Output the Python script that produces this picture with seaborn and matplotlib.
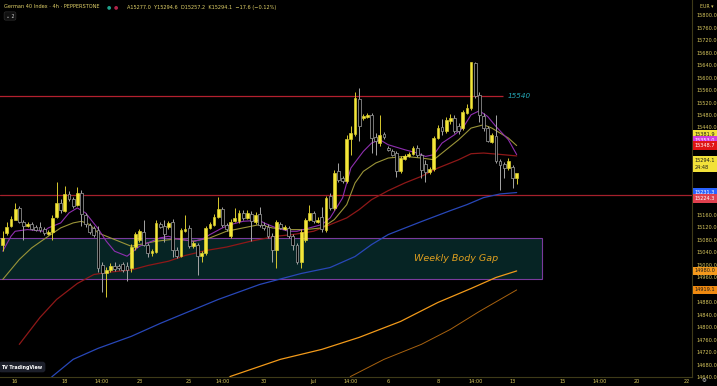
import numpy as np
import pandas as pd
import seaborn as sns
import matplotlib.pyplot as plt
from matplotlib.patches import Rectangle

# ---- candles (4h bars, oldest first) ----
opens = [15064.6, 15103.0, 15125.4, 15144.6, 15183.0, 15138.2, 15125.4, 15131.8, 15122.2, 15122.2,
         15115.8, 15099.8, 15106.2, 15154.2, 15199.0, 15173.4, 15227.8, 15211.8, 15192.6, 15231.0,
         15160.6, 15128.6, 15119.0, 15112.6, 15000.6, 14975.0, 14984.6, 14997.4, 14997.4, 15003.8,
         14997.4, 14991.0, 15058.2, 15080.6, 15106.2, 15064.6, 15039.0, 15042.2, 15131.8, 15125.4,
         15122.2, 15138.2, 15048.6, 15029.4, 15109.4, 15119.0, 15061.4, 15064.6, 15029.4, 15039.0,
         15119.0, 15128.6, 15154.2, 15179.8, 15128.6, 15093.4, 15141.4, 15141.4, 15167.0, 15151.0,
         15163.8, 15138.2, 15163.8, 15128.6, 15122.2, 15093.4, 15048.6, 15131.8, 15115.8, 15119.0,
         15093.4, 15064.6, 15010.2, 15080.6, 15144.6, 15167.0, 15138.2, 15154.2, 15112.6, 15221.4,
         15183.0, 15301.4, 15279.0, 15269.4, 15403.8, 15419.8, 15531.8, 15471.0, 15474.2, 15480.6,
         15410.2, 15391.0, 15419.8, 15375.0, 15365.4, 15359.0, 15301.4, 15339.8, 15349.4, 15355.8,
         15375.0, 15352.6, 15323.8, 15298.2, 15307.8, 15407.0, 15442.2, 15429.4, 15461.4, 15471.0,
         15445.4, 15439.0, 15487.0, 15503.0, 15647.0, 15544.6, 15477.4, 15439.0, 15394.2, 15413.4,
         15333.4, 15323.8, 15311.0, 15314.2, 15277.0]
highs = [15107.0, 15138.2, 15157.4, 15199.0, 15189.4, 15144.6, 15138.2, 15138.2, 15128.6, 15138.2,
         15122.2, 15112.6, 15160.6, 15266.2, 15211.8, 15253.4, 15237.4, 15218.2, 15250.2, 15240.6,
         15167.0, 15135.0, 15125.4, 15125.4, 15010.2, 14994.2, 15007.0, 15010.2, 15003.8, 15010.2,
         15010.2, 15067.8, 15106.2, 15115.8, 15144.6, 15071.0, 15051.8, 15144.6, 15138.2, 15144.6,
         15141.4, 15147.8, 15058.2, 15119.0, 15160.6, 15128.6, 15077.4, 15071.0, 15045.4, 15125.4,
         15138.2, 15163.8, 15218.2, 15186.2, 15135.0, 15147.8, 15183.0, 15176.6, 15176.6, 15176.6,
         15173.4, 15170.2, 15186.2, 15138.2, 15131.8, 15103.0, 15144.6, 15138.2, 15128.6, 15125.4,
         15099.8, 15071.0, 15115.8, 15151.0, 15192.6, 15173.4, 15154.2, 15186.2, 15221.4, 15231.0,
         15304.6, 15327.0, 15285.0, 15416.6, 15445.4, 15554.0, 15567.0, 15483.8, 15487.0, 15487.0,
         15423.0, 15480.6, 15426.2, 15381.4, 15371.8, 15365.4, 15349.4, 15355.8, 15362.2, 15381.4,
         15384.6, 15359.0, 15336.6, 15314.2, 15413.4, 15448.6, 15467.8, 15474.2, 15483.8, 15480.6,
         15455.0, 15496.6, 15515.8, 15650.2, 15650.2, 15554.0, 15487.0, 15445.4, 15423.0, 15480.6,
         15339.8, 15330.2, 15343.0, 15320.6, 15294.6]
lows = [15043.0, 15096.6, 15122.2, 15144.6, 15135.0, 15080.6, 15122.2, 15112.6, 15109.4, 15106.2,
        15096.6, 15096.6, 15080.6, 15151.0, 15167.0, 15170.2, 15205.4, 15183.0, 15189.4, 15125.4,
        15122.2, 15099.8, 15090.2, 14978.2, 14911.0, 14895.0, 14978.2, 14981.4, 14984.6, 14978.2,
        14946.2, 14978.2, 15048.6, 15074.2, 15061.4, 15026.2, 15029.4, 15039.0, 15119.0, 15074.2,
        15115.8, 15026.2, 15023.0, 15026.2, 15106.2, 15055.0, 15055.0, 14965.4, 15010.2, 15032.6,
        15115.8, 15125.4, 15151.0, 15122.2, 15109.4, 15087.0, 15138.2, 15135.0, 15144.6, 15147.8,
        15077.4, 15131.8, 15122.2, 15112.6, 15087.0, 15010.2, 14991.0, 15115.8, 15112.6, 15087.0,
        15048.6, 15003.8, 14991.0, 15074.2, 15141.4, 15135.0, 15135.0, 15106.2, 15106.2, 15176.6,
        15176.6, 15266.2, 15263.0, 15263.0, 15352.6, 15413.4, 15397.4, 15464.6, 15471.0, 15359.0,
        15352.6, 15381.4, 15403.8, 15365.4, 15349.4, 15282.2, 15295.0, 15336.6, 15346.2, 15352.6,
        15346.2, 15279.0, 15266.2, 15291.8, 15301.4, 15403.8, 15416.6, 15423.0, 15451.8, 15423.0,
        15419.8, 15432.6, 15483.8, 15496.6, 15535.0, 15458.2, 15429.4, 15394.2, 15391.0, 15327.0,
        15240.6, 15279.0, 15304.6, 15247.0, 15257.2]
closes = [15087.0, 15122.2, 15147.8, 15179.8, 15138.2, 15125.4, 15131.8, 15115.8, 15112.6, 15112.6,
          15103.0, 15106.2, 15151.0, 15199.0, 15176.6, 15227.8, 15211.8, 15189.4, 15231.0, 15163.8,
          15131.8, 15106.2, 15096.6, 14991.0, 14975.0, 14984.6, 14997.4, 14987.8, 14991.0, 14984.6,
          14984.6, 15058.2, 15099.8, 15109.4, 15064.6, 15039.0, 15045.4, 15135.0, 15122.2, 15099.8,
          15135.0, 15048.6, 15029.4, 15112.6, 15115.8, 15061.4, 15071.0, 15029.4, 15039.0, 15119.0,
          15131.8, 15154.2, 15179.8, 15128.6, 15115.8, 15138.2, 15151.0, 15167.0, 15151.0, 15167.0,
          15141.4, 15160.6, 15128.6, 15119.0, 15093.4, 15048.6, 15138.2, 15119.0, 15122.2, 15093.4,
          15064.6, 15010.2, 15106.2, 15144.6, 15167.0, 15141.4, 15144.6, 15115.8, 15215.0, 15183.0,
          15295.0, 15272.6, 15269.4, 15403.8, 15423.0, 15535.0, 15445.4, 15477.4, 15480.6, 15407.0,
          15397.4, 15416.6, 15410.2, 15368.6, 15352.6, 15301.4, 15343.0, 15349.4, 15355.8, 15375.0,
          15352.6, 15304.6, 15298.2, 15307.8, 15407.0, 15439.0, 15429.4, 15464.6, 15471.0, 15429.4,
          15429.4, 15490.2, 15503.0, 15648.6, 15541.4, 15480.6, 15439.0, 15397.4, 15416.6, 15333.4,
          15320.6, 15311.0, 15333.4, 15279.0, 15294.1]

# ---- moving averages (bar index, price) ----
ma_purple_bar = [0, 2, 3, 6, 10, 11, 14, 16, 18, 20, 23, 25, 27, 30, 33, 35, 38, 40, 42, 46, 48, 50, 53, 55, 58, 62,
                 63, 66, 69, 71, 74, 77, 79, 82, 84, 87, 89, 91, 93, 97, 100, 102, 104, 106, 109, 111, 113, 115,
                 117, 119, 122, 124]
ma_purple = [15043.2, 15091.2, 15107.2, 15112.6, 15107.2, 15118.0, 15134.0, 15166.0, 15182.0, 15166.0, 15115.8,
             15075.2, 15043.2, 15027.2, 15059.2, 15070.0, 15086.0, 15091.2, 15082.8, 15075.2, 15080.6, 15096.6,
             15118.0, 15128.6, 15139.2, 15142.4, 15134.0, 15118.0, 15107.2, 15107.2, 15118.0, 15128.6, 15150.0,
             15214.0, 15310.0, 15363.2, 15390.0, 15400.6, 15384.6, 15368.6, 15358.0, 15347.2, 15352.6, 15390.0,
             15416.6, 15438.0, 15480.6, 15493.4, 15475.2, 15443.2, 15400.6, 15353.0]
ma_olive_bar = [0, 2, 4, 7, 11, 14, 17, 19, 21, 23, 27, 31, 33, 37, 42, 46, 50, 54, 58, 62, 65, 69, 73, 77, 80, 83,
                85, 87, 90, 93, 97, 101, 104, 107, 110, 113, 116, 118, 122, 124]
ma_olive = [14952.6, 14984.6, 15016.6, 15054.0, 15091.2, 15118.0, 15134.0, 15139.2, 15128.6, 15102.0, 15080.6,
            15059.2, 15064.6, 15075.2, 15082.8, 15075.2, 15086.0, 15107.2, 15118.0, 15128.6, 15118.0, 15112.6,
            15112.6, 15118.0, 15144.6, 15192.6, 15262.0, 15299.2, 15326.0, 15342.0, 15347.2, 15342.0, 15336.6,
            15368.6, 15400.6, 15438.0, 15448.6, 15438.0, 15406.0, 15381.9]
ma_red_bar = [4, 9, 13, 18, 22, 26, 31, 35, 40, 44, 49, 54, 60, 66, 70, 75, 79, 83, 86, 89, 93, 97, 101, 105, 110,
              113, 116, 120, 124]
ma_red = [14744.6, 14831.0, 14888.6, 14939.8, 14968.6, 14976.6, 14983.0, 14997.4, 15011.2, 15029.4, 15045.4,
          15056.6, 15075.8, 15091.2, 15096.6, 15107.2, 15128.6, 15150.0, 15176.6, 15208.6, 15237.4, 15262.0,
          15283.2, 15310.0, 15336.6, 15355.8, 15358.0, 15353.6, 15348.7]
ma_blue_bar = [9, 12, 17, 23, 31, 38, 45, 52, 62, 72, 79, 85, 89, 93, 101, 108, 112, 116, 120, 124]
ma_blue = [14600.6, 14642.2, 14696.6, 14731.8, 14770.2, 14811.8, 14850.2, 14888.6, 14936.6, 14971.8, 14991.0,
           15026.2, 15064.6, 15096.6, 15138.2, 15173.4, 15192.6, 15215.0, 15226.8, 15231.3]
ma_orange_bar = [51, 55, 67, 77, 86, 96, 105, 113, 119, 124]
ma_orange = [14600.6, 14642.2, 14696.6, 14728.6, 14767.0, 14818.2, 14879.0, 14923.8, 14959.0, 14980.0]
ma_dkorange_bar = [81, 84, 92, 101, 108, 115, 124]
ma_dkorange = [14600.6, 14642.2, 14696.6, 14744.6, 14792.6, 14850.2, 14919.1]

# ---- levels / zone ----
resistance = 15540.0
support = 15224.3
gap_top, gap_bottom = 15086.0, 14952.6
gap_end_bar = 130

# ---- axes labels ----
x_tick_bars = [3, 15, 24, 33, 45, 53, 63, 75, 84, 93, 105, 114, 123, 135, 144, 153, 165]
x_tick_labels = ["16", "18", "14:00", "23", "25", "14:00", "30", "Jul", "14:00", "6", "8", "14:00", "13",
                 "15", "14:00", "20", "22"]
y_tick_values = [15800, 15760, 15720, 15680, 15640, 15600, 15560, 15520, 15480, 15440, 15160, 15120, 15080,
                 15040, 15000, 14960, 14880, 14840, 14800, 14760, 14720, 14680, 14640]

BG = "#000000"
UP = "#f4e638"
DOWN = "#a6a6a6"
TXT = "#d9c85e"

sns.set_style("dark", {"axes.facecolor": BG, "figure.facecolor": BG})
plt.rcParams["font.family"] = ["DejaVu Sans"]

fig = plt.figure(figsize=(7.17, 3.86), dpi=100)
ax = fig.add_axes([0, 9 / 386, 692 / 717, 377 / 386])
ax.set_facecolor(BG)

# weekly body gap zone
ax.add_patch(Rectangle((-2, gap_bottom), gap_end_bar + 2, gap_top - gap_bottom,
                       facecolor="#062424", edgecolor="#7a3a9c", linewidth=0.8, zorder=1))
ax.text(109.4, (gap_top + gap_bottom) / 2, "Weekly Body Gap", color="#e0a020", fontsize=6.8,
        style="italic", ha="center", va="center", zorder=2)

# horizontal levels
ax.hlines(resistance, -2, 120.7, color="#b3202f", linewidth=0.9, zorder=2)
ax.text(121.9, resistance, "15540", color="#25a9b8", fontsize=5.2, style="italic",
        ha="left", va="center", zorder=2)
ax.axhline(support, color="#a5202c", linewidth=0.9, zorder=2)

# moving averages
for bars, vals, col, lw in [
    (ma_dkorange_bar, ma_dkorange, "#a8620f", 0.7),
    (ma_orange_bar, ma_orange, "#f29a1a", 0.9),
    (ma_blue_bar, ma_blue, "#2847b8", 0.9),
    (ma_red_bar, ma_red, "#8e1818", 0.9),
    (ma_olive_bar, ma_olive, "#9a9438", 0.8),
    (ma_purple_bar, ma_purple, "#8f2fb0", 0.8),
]:
    df = pd.DataFrame({"bar": bars, "price": vals})
    sns.lineplot(data=df, x="bar", y="price", ax=ax, color=col, linewidth=lw,
                 estimator=None, sort=False, zorder=3)

# candles
o = np.array(opens)
h = np.array(highs)
l = np.array(lows)
c = np.array(closes)
idx = np.arange(len(o))
up = c >= o
top = np.maximum(o, c)
bot = np.minimum(o, c)
body = np.maximum(top - bot, 2.5)
wick_col = np.where(up, "#d8ca2e", DOWN)
ax.vlines(idx, top, h, colors=wick_col, linewidth=0.7, zorder=4)
ax.vlines(idx, l, bot, colors=wick_col, linewidth=0.7, zorder=4)
ax.bar(idx[up], body[up], bottom=bot[up], width=0.68, color=UP, edgecolor=UP, linewidth=0.4, zorder=5)
ax.bar(idx[~up], body[~up], bottom=bot[~up], width=0.68, color=BG, edgecolor=DOWN, linewidth=0.5, zorder=5)

ax.set_xlim(-0.65, 166.3)
ax.set_ylim(14642.2, 15848.6)
ax.set_xlabel("")
ax.set_ylabel("")
ax.grid(False)

ax.set_xticks(x_tick_bars)
ax.set_xticklabels(x_tick_labels)
ax.yaxis.tick_right()
ax.set_yticks(y_tick_values)
ax.set_yticklabels([f"{v:.1f}" for v in y_tick_values])
ax.tick_params(axis="x", colors=TXT, labelsize=3.6, length=0, pad=1.2)
ax.tick_params(axis="y", colors=TXT, labelsize=3.6, length=0, pad=3)
for s in ["top", "left"]:
    ax.spines[s].set_visible(False)
for s in ["right", "bottom"]:
    ax.spines[s].set_visible(True)
    ax.spines[s].set_color("#3e3a18")
    ax.spines[s].set_linewidth(0.8)

# price scale value tags
tags = [
    ("15381.9", 15418.8, "#f2e23a", "#1a1a1a"),
    ("15353.0", 15398.4, "#d23be0", "#ffffff"),
    ("15348.7", 15381.4, "#e01515", "#ffffff"),
    ("15294.1\n24:48", 15322.0, "#f2e23a", "#1a1a1a"),
    ("15231.3", 15233.0, "#2962ff", "#ffffff"),
    ("15224.3", 15211.8, "#e0404e", "#ffffff"),
    ("14980.0", 14980.0, "#f59a1c", "#1a1a1a"),
    ("14919.1", 14919.1, "#f08a10", "#1a1a1a"),
]
for label, yv, bg, fg in tags:
    ax.text(1.004, yv, label, transform=ax.get_yaxis_transform(), fontsize=3.6, color=fg,
            ha="left", va="center", linespacing=1.6, clip_on=False, zorder=10,
            bbox=dict(boxstyle="square,pad=0.35", facecolor=bg, edgecolor="none"))

# header
fig.text(4 / 717, 1 - 7 / 386, "German 40 Index · 4h · PEPPERSTONE", color="#e3d36a",
         fontsize=3.65, ha="left", va="center")
fig.text(109 / 717, 1 - 7 / 386, "●", color="#1fa38d", fontsize=3.6, ha="center", va="center")
fig.text(116 / 717, 1 - 7 / 386, "●", color="#b0244a", fontsize=3.6, ha="center", va="center")
fig.text(127 / 717, 1 - 7 / 386, "A15277.0  Y15294.6  D15257.2  K15294.1  −17.6 (−0.12%)",
         color="#e3d36a", fontsize=3.6, ha="left", va="center")
fig.text(10 / 717, 1 - 16 / 386, "⌄ 2", color="#cfcfcf", fontsize=3.4, ha="center", va="center",
         bbox=dict(boxstyle="round,pad=0.35", facecolor="#111111", edgecolor="#333333", linewidth=0.4))
fig.text(700 / 717, 1 - 6 / 386, "EUR ▾", color=TXT, fontsize=3.4, ha="left", va="center")
fig.text(22 / 717, 1 - 367 / 386, "TV TradingView", color="#ffffff", fontsize=3.4, ha="center",
         va="center", fontweight="bold",
         bbox=dict(boxstyle="round,pad=0.6", facecolor="#1c1f2a", edgecolor="none"))
fig.text(704 / 717, 1 - 381 / 386, "⚙", color="#cccccc", fontsize=4, ha="center", va="center")

fig.savefig("out.png", dpi=100, facecolor=BG)
